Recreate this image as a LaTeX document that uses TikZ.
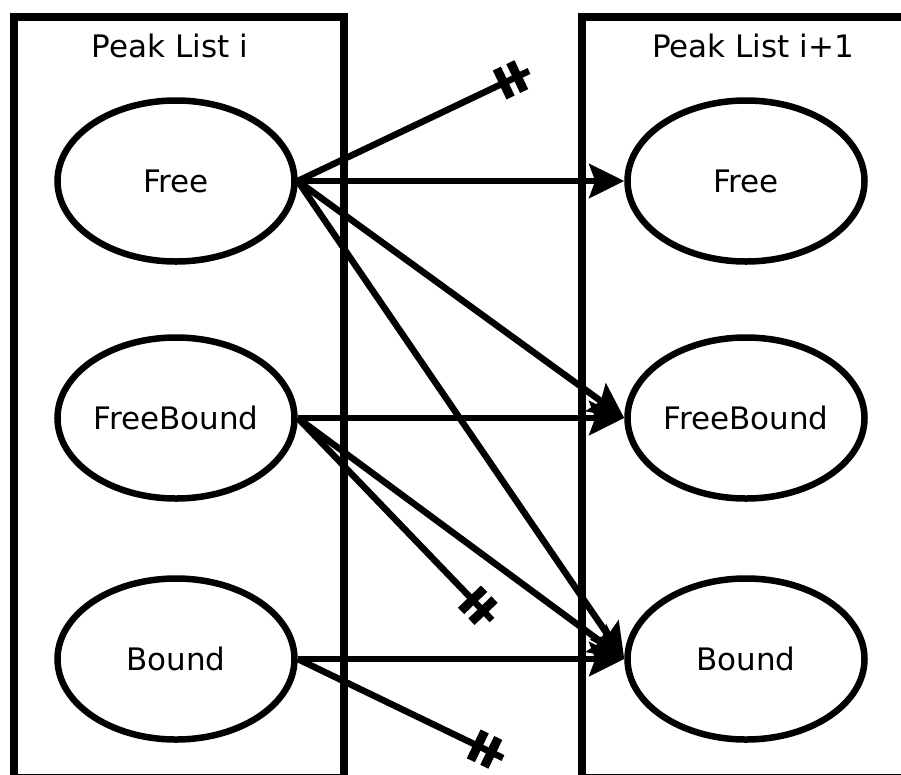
\documentclass[tikz,border=0pt]{standalone}
\usepackage{fontspec}
\setmainfont{DejaVu Sans}
\usetikzlibrary{shapes.geometric,arrows.meta,positioning,decorations.markings}

\tikzset{
    state/.style={
        ellipse,
        draw,
        line width=6.5pt,
        minimum width=237pt,
        minimum height=161pt,
        inner sep=0pt
    },
    listbox/.style={draw, line width=8pt},
    listname/.style={inner sep=0pt, anchor=center},
    match/.style={line width=6.5pt, -{Stealth[length=35pt,width=34pt,inset=6pt]}},
    teebar/.style={line width=9pt},
    drop/.style={line width=6.5pt,
        postaction={decorate},
        decoration={markings,
            mark=at position -13pt with {\draw[teebar] (0pt,-16pt) -- (0pt,16pt);},
            mark=at position -28pt with {\draw[teebar] (0pt,-16pt) -- (0pt,16pt);}}},
    font={\fontsize{31pt}{36pt}\selectfont},
}

\begin{document}
\begin{tikzpicture}[x=1pt,y=-1pt]
\useasboundingbox (0,0) rectangle (901,774);
\clip (0,0) rectangle (901,774);

% List boxes
\draw[listbox] (14,16.5) rectangle (343.5,778);
\draw[listbox] (582,16.5) rectangle (930,778);
\node[listname] (namei) at (170,46) {Peak List i};
\node[listname] (namenext) at (753,46) {Peak List i+1};

% Peaks of list i
\node[state] (free) at (176,181) {Free};
\node[state] (freebound) at (176,418) {FreeBound};
\node[state] (bound) at (176,659) {Bound};

% Peaks of list i+1
\node[state] (nfree) at (746,181) {Free};
\node[state] (nfreebound) at (746,418) {FreeBound};
\node[state] (nbound) at (746,659) {Bound};

% Dead ends
\coordinate (freeend) at (529,71);
\coordinate (freeboundend) at (492,620);
\coordinate (boundend) at (503,758);

% Transitions
\draw[match] (free.east) -- (nfree.west);
\draw[match] (free.east) -- (nfreebound.west);
\draw[match] (free.east) -- (nbound.west);
\draw[drop] (free.east) -- (freeend);
\draw[match] (freebound.east) -- (nfreebound.west);
\draw[match] (freebound.east) -- (nbound.west);
\draw[drop] (freebound.east) -- (freeboundend);
\draw[match] (bound.east) -- (nbound.west);
\draw[drop] (bound.east) -- (boundend);
\end{tikzpicture}
\end{document}
